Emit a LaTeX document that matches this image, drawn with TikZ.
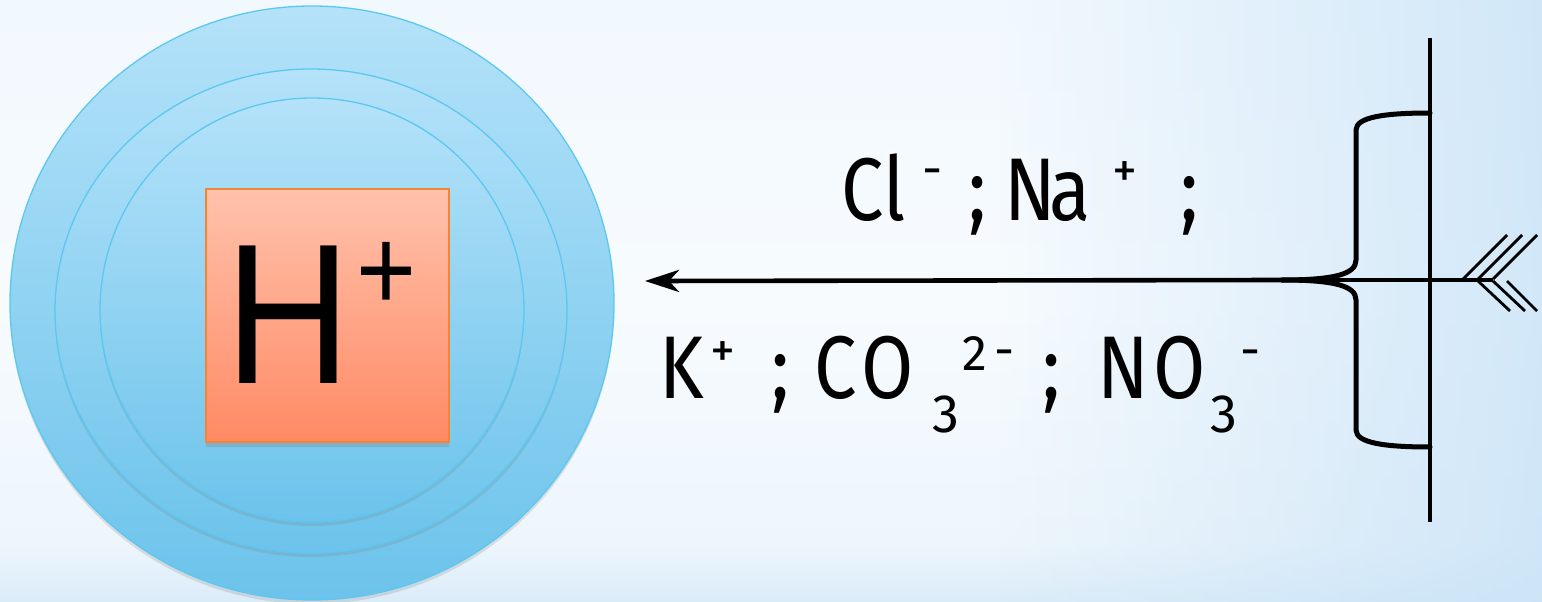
\documentclass[tikz,border=0pt]{standalone}
\usepackage{fontspec}
\newfontfamily\hfont[FakeStretch=0.87]{Liberation Sans}
\newfontfamily\ionfont[FakeStretch=0.85]{Fira Sans}
\newfontfamily\supfont{Fira Sans}
\usetikzlibrary{arrows.meta,shadows,fadings}
\definecolor{bgA}{HTML}{EDF6FD}
\definecolor{bgB}{HTML}{F7FBFE}
\definecolor{bgC}{HTML}{EEF6FC}
\definecolor{bgD}{HTML}{CBE4F6}
\definecolor{bgE}{HTML}{DDEEF9}
\definecolor{bgF}{HTML}{E4F1FA}
\definecolor{bgR}{HTML}{C9E3F7}
\definecolor{ringTop}{HTML}{B4E2F9}
\definecolor{ringBot}{HTML}{6CC3EB}
\definecolor{ringLine}{HTML}{5CC8F0}
\definecolor{sqTop}{HTML}{FFC2AC}
\definecolor{sqBot}{HTML}{FF8A64}
\definecolor{sqLine}{HTML}{F58532}
\pgfdeclareverticalshading{bgshade}{100bp}{color(0bp)=(bgF); color(12bp)=(bgE); color(21bp)=(bgD); color(30bp)=(bgC); color(50bp)=(bgB); color(100bp)=(bgA)}
\tikzfading[name=fadeR, left color=transparent!100, right color=transparent!0]
% place a piece of text at a horizontal offset from the start of the line
\newcommand{\putat}[2]{\rlap{\hspace*{#1pt}#2}}
\newcommand{\ionsup}[2]{\raisebox{#1pt}{\supfont\fontsize{50}{50}\selectfont #2}}
\newcommand{\ionsub}[1]{\raisebox{-34pt}{\supfont\fontsize{54}{54}\selectfont #1}}
\tikzset{
  ring/.style={top color=ringTop, bottom color=ringBot, draw=ringLine, line width=1.3pt},
  ringshadow/.style={drop shadow={opacity=0.22, shadow xshift=0pt, shadow yshift=-4pt}},
  hbox/.style={rectangle, top color=sqTop, bottom color=sqBot, draw=sqLine, line width=1.5pt,
    minimum width=243pt, minimum height=253pt, inner sep=0pt,
    drop shadow={opacity=0.3, shadow xshift=0pt, shadow yshift=-5pt}},
  ionlabel/.style={anchor=base west, inner sep=0pt, font=\ionfont\fontsize{89}{90}\selectfont},
  thickline/.style={line width=4.6pt},
  braceline/.style={line width=5pt, line cap=round},
  thinline/.style={line width=3.2pt},
  featherline/.style={line width=2.8pt}
}
\begin{document}
\begin{tikzpicture}[x=1pt, y=-1pt]
\useasboundingbox (0,0) rectangle (1542,602);
% background
\shade[shading=bgshade] (0,0) rectangle (1542,602);
\fill[bgR, path fading=fadeR, opacity=0.8] (1000,0) rectangle (1542,602);
% rings
\path[ring, ringshadow] (312,303) ellipse [x radius=302, y radius=297];
\path[ring, ringshadow] (311,311) ellipse [x radius=256, y radius=242];
\path[ring, ringshadow] (312,310) ellipse [x radius=212, y radius=212];
% H+ box
\node[hbox] (hsq) at (327.5,315.5) {};
\node[anchor=base west, inner sep=0pt, font=\hfont\fontsize{200}{200}\selectfont] (hlabel) at (225,383)
  {H\kern6pt\raisebox{73pt}{\fontsize{118}{118}\selectfont +}};
% ion labels
\node[ionlabel] (ions1) at (840,220)
  {\putat{1}{C}\putat{43}{l}\putat{82}{\ionsup{34}{-}}\putat{128}{;}\putat{164}{N}\putat{209}{a}\putat{272}{\ionsup{33}{+}}\putat{340}{;}\hspace*{360pt}};
\node[ionlabel] (ions2) at (658,398)
  {\putat{1}{K}\putat{52}{\ionsup{31}{+}}\putat{113}{;}\putat{156}{C}\putat{203}{O}\putat{274}{\ionsub{3}}\putat{304}{\ionsup{28}{2}}\putat{336}{\ionsup{31}{-}}\putat{384}{;}\putat{439}{N}\putat{495}{O}\putat{552}{\ionsub{3}}\putat{582}{\ionsup{31}{-}}\hspace*{600pt}};
% membrane and brace
\coordinate (mtop) at (1430,38);
\coordinate (mbot) at (1430,522);
\draw[thickline] (mtop) -- (mbot);
\coordinate (tip) at (1282,280);
\coordinate (btop) at (1430,113);
\coordinate (bbot) at (1430,447);
\draw[braceline] (btop) .. controls (1385,113) and (1356,117) .. (1356,130)
  -- (1356,260) .. controls (1356,274) and (1335,280) .. (tip);
\draw[braceline] (tip) .. controls (1335,280) and (1356,286) .. (1356,300)
  -- (1356,430) .. controls (1356,443) and (1385,447) .. (bbot);
% arrow
\coordinate (arrowend) at (645,281);
\draw[thickline, -{Stealth[length=34pt, width=22pt, inset=10pt]}] (tip) -- (arrowend);
% arrow tail with fletching
\coordinate (tail) at (1493,280);
\draw[thinline] (tip) -- (tail);
\draw[featherline] (1463,279) -- (1507,235) (1478,279) -- (1522,235) (1493,279) -- (1537,235);
\draw[featherline] (1478,281) -- (1510,311) (1493,281) -- (1525,311) (1507,281) -- (1537,311);
\end{tikzpicture}
\end{document}
